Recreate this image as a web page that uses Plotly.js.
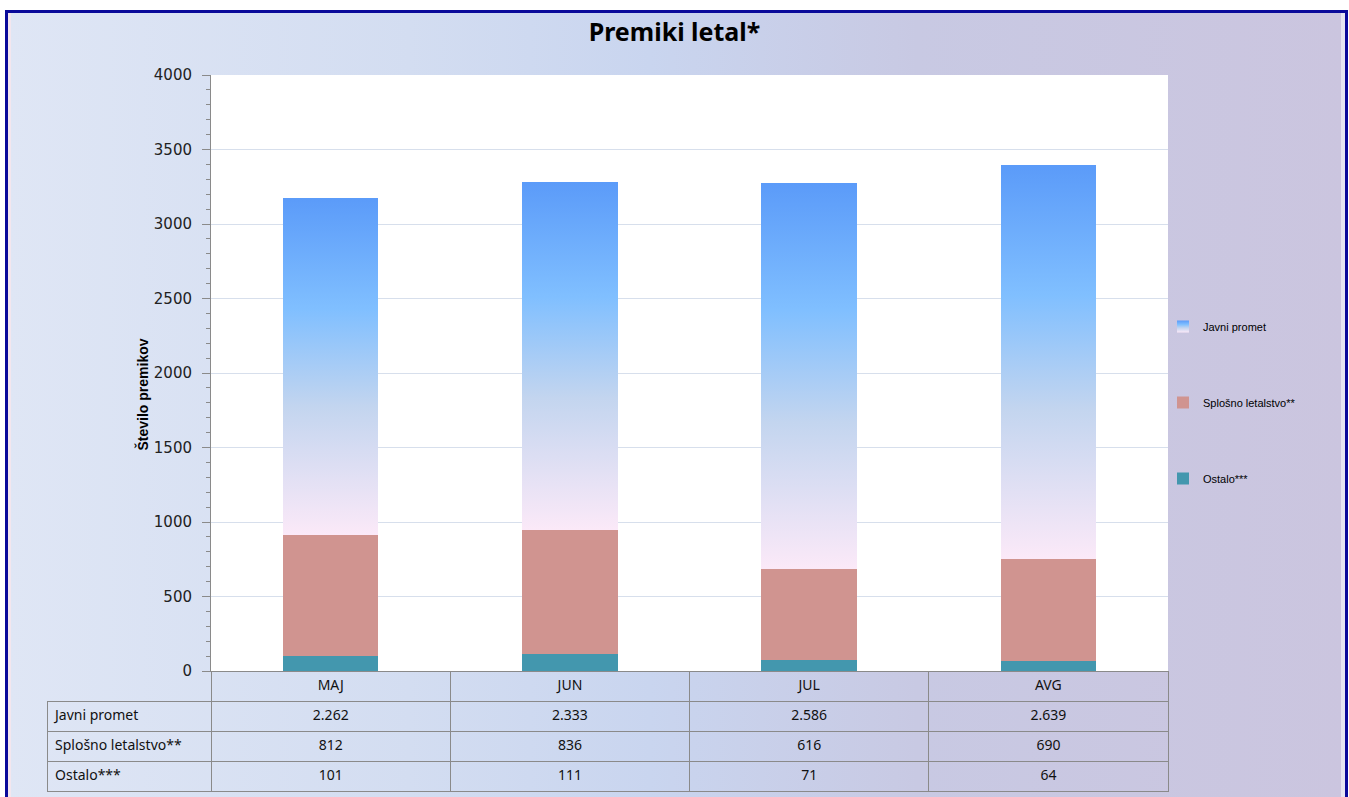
<!DOCTYPE html>
<html>
<head>
<meta charset="utf-8">
<script src="https://cdn.plot.ly/plotly-3.0.1.min.js"></script>
<style>
html,body{margin:0;padding:0;background:#fff;width:1349px;height:797px;overflow:hidden;}
#frame{position:absolute;left:5px;top:10px;width:1337px;height:800px;border:3px solid #0a0a9a;
 background:linear-gradient(to right,#dfe6f5 0%,#d3ddf1 30%,#c9d5ef 48%,#c8c9e3 68%,#cbc5df 100%);
 box-shadow: inset 3px 0 0 #f3e6ee, inset -4px 0 0 #e6e6f2;}
#chart{position:absolute;left:0;top:0;width:1349px;height:797px;}
</style>
</head>
<body>
<div id="frame"></div>
<div id="chart"></div>
<script>
// ---- data ----
const categories = ['MAJ', 'JUN', 'JUL', 'AVG'];
const seriesNames = ['Javni promet', 'Splošno letalstvo**', 'Ostalo***'];
const javniPromet = [2262, 2333, 2586, 2639];
const splosnoLetalstvo = [812, 836, 616, 690];
const ostalo = [101, 111, 71, 64];
const yTitle = 'Število premikov';
const chartTitle = 'Premiki letal*';

function fmt(v){ return String(v).replace(/\B(?=(\d{3})+(?!\d))/g, '.'); }

const W = 1349, H = 797;
const px = x => x / W;
const py = y => 1 - y / H;

const traces = [
  {type:'bar', name:seriesNames[2], x:categories, y:ostalo, marker:{color:'#4397ae'}, legendgroup:'c', legendrank:3, hoverinfo:'y'},
  {type:'bar', name:seriesNames[1], x:categories, y:splosnoLetalstvo, marker:{color:'#d09490'}, legendgroup:'b', legendrank:2, hoverinfo:'y'},
  {type:'bar', name:seriesNames[0], x:categories, y:javniPromet, marker:{color:'#7fb5fb'}, legendgroup:'a', legendrank:1, hoverinfo:'y'},
  {type:'table', domain:{x:[px(47), px(1168)], y:[py(794), py(671)]},
   columnwidth:[164, 239, 239, 239, 239],
   header:{values:[''].concat(categories), height:30, align:'center',
     fill:{color:'rgba(0,0,0,0)'},
     line:{color:['rgba(0,0,0,0)','#8a8a8a','#8a8a8a','#8a8a8a','#8a8a8a'], width:1},
     font:{family:'Noto Sans, Liberation Sans, sans-serif', size:14, color:'#111'}},
   cells:{values:[seriesNames].concat(categories.map((c,i)=>[fmt(javniPromet[i]), fmt(splosnoLetalstvo[i]), fmt(ostalo[i])])),
     height:30, align:['left','center','center','center','center'],
     fill:{color:'rgba(0,0,0,0)'}, line:{color:'#8a8a8a', width:1},
     font:{family:'Noto Sans, Liberation Sans, sans-serif', size:14, color:'#111'}}
  }
];

const layout = {
  width:W, height:H,
  margin:{l:0, r:0, t:0, b:0},
  paper_bgcolor:'rgba(0,0,0,0)',
  plot_bgcolor:'#ffffff',
  barmode:'stack',
  bargap:0.6,
  title:{text:'<b>'+chartTitle+'</b>', x:0.5, xanchor:'center', y:py(32), yanchor:'middle',
    font:{family:'Noto Sans, Liberation Sans, sans-serif', size:25, color:'#000'}},
  xaxis:{domain:[px(211), px(1168)], showticklabels:false, ticks:'', showline:true, linecolor:'#8a8a8a', linewidth:1, fixedrange:true},
  yaxis:{domain:[py(671), py(75)], range:[0,4000], dtick:500, tick0:0,
    ticks:'outside', ticklen:8, tickcolor:'#8a8a8a', showline:true, linecolor:'#8a8a8a', linewidth:1,
    gridcolor:'#d7dfec', gridwidth:1, zeroline:false, ticklabelstandoff:7,
    tickfont:{family:'DejaVu Sans, Verdana, sans-serif', size:15, color:'#222'},
    minor:{dtick:100, ticks:'outside', ticklen:4, tickcolor:'#8a8a8a', showgrid:false}, fixedrange:true},
  showlegend:true,
  legend:{x:px(1163), xanchor:'left', y:py(312), yanchor:'top', traceorder:'grouped', tracegroupgap:57,
    bgcolor:'rgba(0,0,0,0)', font:{family:'Liberation Sans, Arial, sans-serif', size:11, color:'#000'},
    itemwidth:30},
  annotations:[{text:'<b>'+yTitle+'</b>', textangle:-90, xref:'paper', yref:'paper', x:px(131), y:py(395),
    showarrow:false, font:{family:'Liberation Sans, Arial, sans-serif', size:14, color:'#000'}}]
};

Plotly.newPlot('chart', traces, layout, {displayModeBar:false, staticPlot:true}).then(gd => {
  const svg = gd.querySelector('svg.main-svg');
  const ns = 'http://www.w3.org/2000/svg';
  const defs = document.createElementNS(ns, 'defs');
  const lg = document.createElementNS(ns, 'linearGradient');
  lg.setAttribute('id', 'jpGrad');
  lg.setAttribute('x1', '0'); lg.setAttribute('y1', '0'); lg.setAttribute('x2', '0'); lg.setAttribute('y2', '1');
  [['0', '#5b9bf9'], ['0.33', '#80bfff'], ['0.62', '#c3d5ef'], ['1', '#fbe9f8']].forEach(([o, c]) => {
    const s = document.createElementNS(ns, 'stop');
    s.setAttribute('offset', o); s.setAttribute('stop-color', c);
    lg.appendChild(s);
  });
  defs.appendChild(lg);
  svg.insertBefore(defs, svg.firstChild);
  const barTraces = gd.querySelectorAll('.barlayer .trace');
  const jp = barTraces[2];
  if (jp) jp.querySelectorAll('.point path').forEach(p => { p.style.fill = 'url(#jpGrad)'; });
  gd.querySelectorAll('.legend .traces').forEach(t => {
    const txt = t.querySelector('.legendtext');
    if (txt && txt.textContent === seriesNames[0]) {
      t.querySelectorAll('.legendpoints path').forEach(p => { p.style.fill = 'url(#jpGrad)'; });
    }
  });
});
</script>
</body>
</html>
